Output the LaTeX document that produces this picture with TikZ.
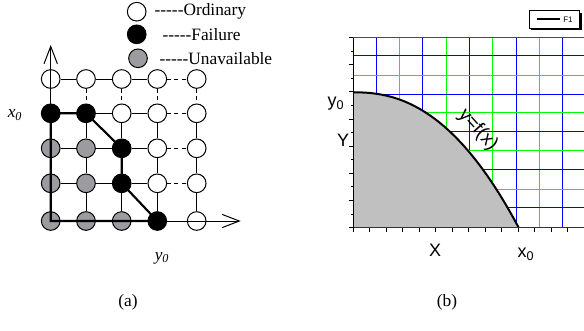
\documentclass[tikz,border=0pt]{standalone}
\usepackage{fontspec}
\setmainfont{Liberation Serif}
\newfontfamily\plotfont{Liberation Sans}
\usetikzlibrary{positioning,arrows.meta,shadows}
\definecolor{unavgray}{RGB}{155,155,160}
\definecolor{areagray}{RGB}{192,192,192}

\begin{document}
\begin{tikzpicture}[x=0.75pt,y=-0.75pt,
  dot/.style={circle,draw,line width=0.75pt,minimum size=14pt,inner sep=0pt},
  ord/.style={dot,fill=white},
  fail/.style={dot,fill=black},
  unav/.style={dot,fill=unavgray},
  link/.style={line width=0.75pt},
  dlink/.style={link,dash pattern=on 3pt off 2.5pt},
  bold/.style={line width=1.6pt},
  axtip/.style={-{Straight Barb[length=13pt,width=10pt]}},
  lbl/.style={font=\fontsize{13}{15}\selectfont,inner sep=0pt},
  plbl/.style={font=\plotfont\fontsize{13.5}{16}\selectfont,inner sep=0pt}]
\useasboundingbox (0,0) rectangle (584,330);

% (a) states of the grid
\foreach \y/\row [count=\r] in {79/{ord,ord,ord,ord,ord},113.3/{fail,fail,ord,ord,ord},
    148.3/{unav,unav,fail,ord,ord},183.3/{unav,unav,fail,ord,ord},221/{unav,unav,unav,fail,ord}}
  \foreach \s [count=\c] in \row {
    \pgfmathsetmacro{\x}{{50.7,86,121.7,157.3,196.7}[\c-1]}
    \node[\s] (n\r\c) at (\x,\y) {};
  }
\foreach \r in {1,...,5} {
  \foreach \c [evaluate=\c as \d using int(\c+1)] in {1,2,3}
    \draw[link] (n\r\c) -- (n\r\d);
  \draw[dlink] (n\r4) -- (n\r5);
}
\foreach \r [evaluate=\r as \q using int(\r+1)] in {2,3,4}
  \foreach \c in {1,...,5}
    \draw[link] (n\r\c) -- (n\q\c);
\draw[link] (n11) -- (n21);
\foreach \c in {2,...,5}
  \draw[dlink] (n1\c) -- (n2\c);

\coordinate (ytip) at (50.7,45);
\coordinate (xtip) at (240.7,221);
\draw[link,axtip] (n51.center) -- (ytip);
\draw[link,axtip] (n51.center) -- (xtip);
\draw[bold] (n21.center) -- (n22.center) -- (n33.center) -- (n43.center)
  -- (n54.center) -- (n51.center) -- (n21.center);

\node[lbl] (xlab) at (15,115) {\itshape x\textsubscript{0}};
\node[lbl] (ylab) at (162,258) {\itshape y\textsubscript{0}};

% legend
\node[ord] (l1) at (136.7,11.7) {};
\node[fail] (l2) at (136.7,34.3) {};
\node[unav] (l3) at (138,58.3) {};
\node[lbl,right=5.9pt of l1] (t1) {-{}-{}-{}-{}-Ordinary};
\node[lbl,right=11.8pt of l2] (t2) {-{}-{}-{}-{}-Failure};
\node[lbl,right=8.6pt of l3] (t3) {-{}-{}-{}-{}-Unavailable};

% (b) the boundary curve
\foreach \x in {376,422.7,469.3,516,562.7}
  \draw[link,blue] (\x,37.7) -- (\x,227.7);
\foreach \x in {399.3,446,492.7,539.3}
  \draw[link,green] (\x,37.7) -- (\x,227.7);
\foreach \y in {55.7,94.3,131.7,169.3,207.7}
  \draw[link,blue] (353.3,\y) -- (584,\y);
\foreach \y in {75,112.7,150.7,189}
  \draw[link,green] (353.3,\y) -- (584,\y);

\coordinate (O) at (353.3,227.7);
\coordinate (top) at (353.3,37.7);
\coordinate (xend) at (584,227.7);
\coordinate (tend) at (584,37.7);
\fill[areagray] (O) -- plot[domain=0:1,samples=60] ({353.3+165.4*\x},{227.7-135.4*(1-\x^2.3)}) -- cycle;
\draw[line width=1.5pt] plot[domain=0:1,samples=60] ({353.3+165.4*\x},{227.7-135.4*(1-\x^2.3)});

\draw[link,black!70] (top) -- (tend);
\draw[link,black!80] (O) -- (xend);
\draw[line width=1.1pt] (O) -- (top);
\foreach \i in {0,...,14}
  \draw[link] (353.3,{37.7+\i*13.57}) -- ++({\ifodd\i -2.5\else -4\fi},0);
\foreach \i in {0,...,13}
  \draw[link] ({353.3+\i*16.5},227.7) -- ++(0,{\ifodd\i 2.5\else 4\fi});

\node[plbl] (py0) at (336,104) {y\textsubscript{0}};
\node[plbl] (pY) at (343,140) {Y};
\node[plbl] (pX) at (435,250.7) {X};
\node[plbl] (px0) at (526,254) {x\textsubscript{0}};
\node[plbl,font=\plotfont\fontsize{14.5}{16}\selectfont,rotate=-48] (fx) at (478,130) {y=f(x)};

% key box
\node[draw,fill=white,line width=0.75pt,minimum width=38pt,minimum height=13pt,
  drop shadow={shadow xshift=1.5pt,shadow yshift=-1.5pt,fill=black,opacity=1}] (key) at (554.5,19.5) {};
\coordinate (ka) at (536.7,19);
\coordinate (kb) at (560,19);
\draw[line width=1.5pt] (ka) -- (kb);
\node[font=\plotfont\fontsize{6}{7}\selectfont,inner sep=0pt] (kf) at (568,19.5) {F1};

\node[lbl] (capa) at (128,302) {(a)};
\node[lbl] (capb) at (447,302) {(b)};
\end{tikzpicture}
\end{document}
